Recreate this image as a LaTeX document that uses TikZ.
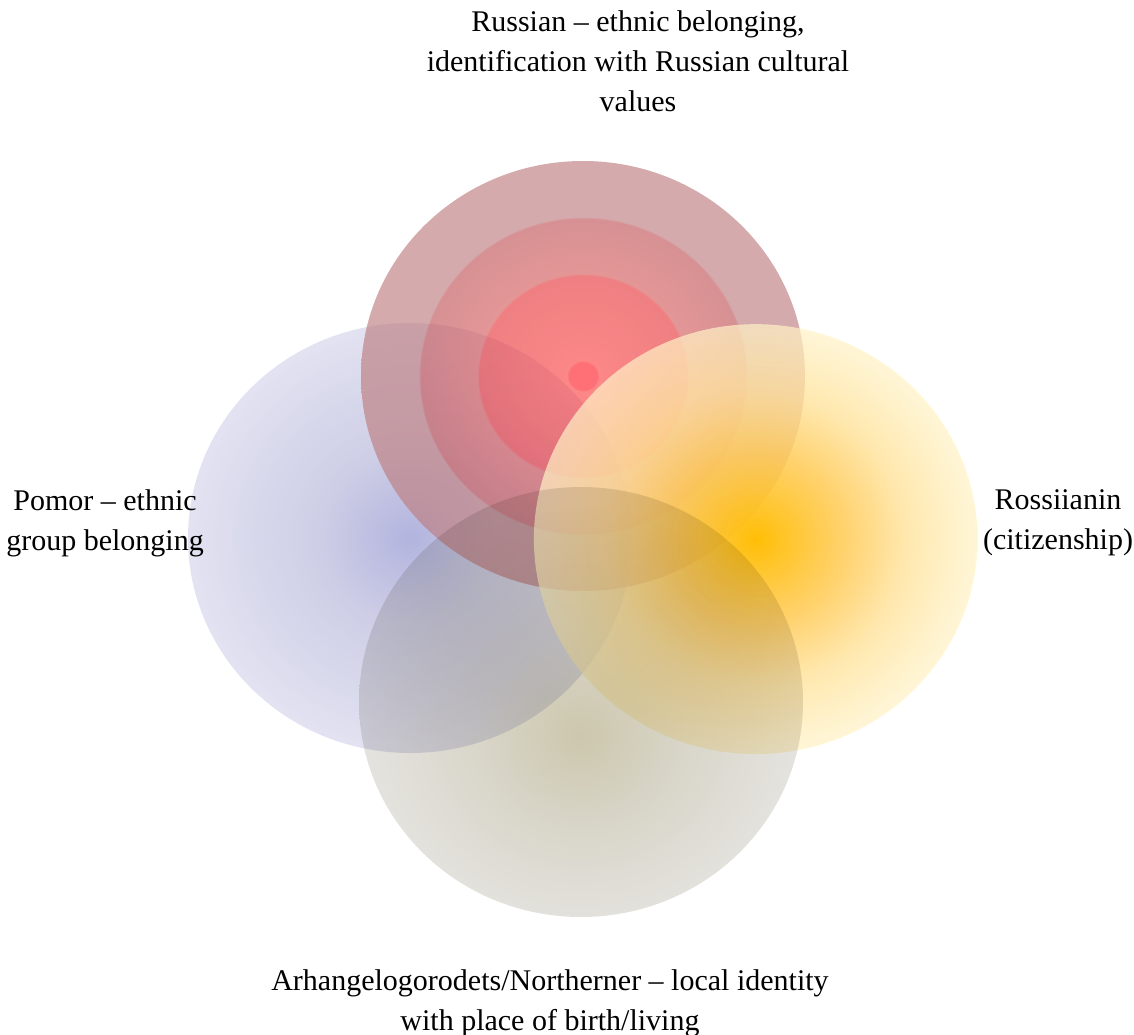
\documentclass[tikz,border=0pt]{standalone}
\usepackage{fontspec}
\setmainfont{Liberation Serif}
\usepackage{tikz}
\usetikzlibrary{fadings}
\usepackage{xcolor}
% colours of the four circles
\definecolor{rusSpot}{RGB}{255,35,44}
\definecolor{rusCore}{RGB}{250,70,70}
\definecolor{rusCoreEdge}{RGB}{229,59,63}
\definecolor{rusRingIn}{RGB}{213,93,93}
\definecolor{rusRingOut}{RGB}{193,86,90}
\definecolor{rusOuter}{RGB}{189,124,127}
\definecolor{pomCore}{RGB}{127,130,200}
\definecolor{pomMid}{RGB}{172,172,213}
\definecolor{pomEdge}{RGB}{207,207,233}
\definecolor{rosCore}{RGB}{255,190,5}
\definecolor{rosMid}{RGB}{255,204,90}
\definecolor{rosOut}{RGB}{255,226,154}
\definecolor{rosEdge}{RGB}{255,242,198}
\definecolor{norCore}{RGB}{204,199,172}
\definecolor{norMid}{RGB}{216,213,200}
\definecolor{norEdge}{RGB}{228,227,223}

\pgfdeclareradialshading{russianshade}{\pgfpoint{0bp}{0bp}}{%
  color(0bp)=(rusSpot); color(1.6bp)=(rusSpot); color(1.8bp)=(rusCore);
  color(11.7bp)=(rusCoreEdge); color(11.9bp)=(rusRingIn);
  color(18.3bp)=(rusRingOut); color(18.5bp)=(rusOuter);
  color(25bp)=(rusOuter); color(50bp)=(rusOuter)}
\pgfdeclareradialshading{pomorshade}{\pgfpoint{0bp}{0bp}}{%
  color(0bp)=(pomCore); color(10bp)=(pomMid);
  color(25bp)=(pomEdge); color(50bp)=(pomEdge)}
\pgfdeclareradialshading{rossshade}{\pgfpoint{0bp}{0bp}}{%
  color(0bp)=(rosCore); color(10bp)=(rosMid); color(17bp)=(rosOut);
  color(25bp)=(rosEdge); color(50bp)=(rosEdge)}
\pgfdeclareradialshading{northshade}{\pgfpoint{0bp}{-4bp}}{%
  color(0bp)=(norCore); color(11bp)=(norMid);
  color(25bp)=(norEdge); color(50bp)=(norEdge)}
\tikzfading[name=sunfade, inner color=transparent!0, outer color=transparent!30]

\begin{document}
\begin{tikzpicture}[x=1pt, y=-1pt,
    idtext/.style={font=\fontsize{30}{40}\selectfont, align=center, inner sep=0pt},
    disc/.style={x radius=222, y radius=215}]
  \useasboundingbox (0,0) rectangle (1134,1035);

  % centres of the circles
  \coordinate (pomor) at (410,538);
  \coordinate (russian) at (583,376);
  \coordinate (rossiianin) at (756,539);
  \coordinate (northerner) at (581,702);

  \shade[shading=pomorshade, opacity=0.6] (pomor) ellipse [disc];
  \shade[shading=russianshade, opacity=0.65] (russian) ellipse [disc];
  \shade[shading=rossshade, path fading=sunfade] (rossiianin) ellipse [disc];
  \shade[shading=northshade, blend mode=multiply] (northerner) ellipse [disc];

  % labels
  \node[idtext] (rustext) at (638,61)
    {Russian -- ethnic belonging,\\identification with Russian cultural\\values};
  \node[idtext] (pomtext) at (105,523) {Pomor -- ethnic\\group belonging};
  \node[idtext] (rostext) at (1058,523) {Rossiianin\\(citizenship)};
  \node[idtext] (nortext) at (550,1003)
    {Arhangelogorodets/Northerner -- local identity\\with place of birth/living};
\end{tikzpicture}
\end{document}
